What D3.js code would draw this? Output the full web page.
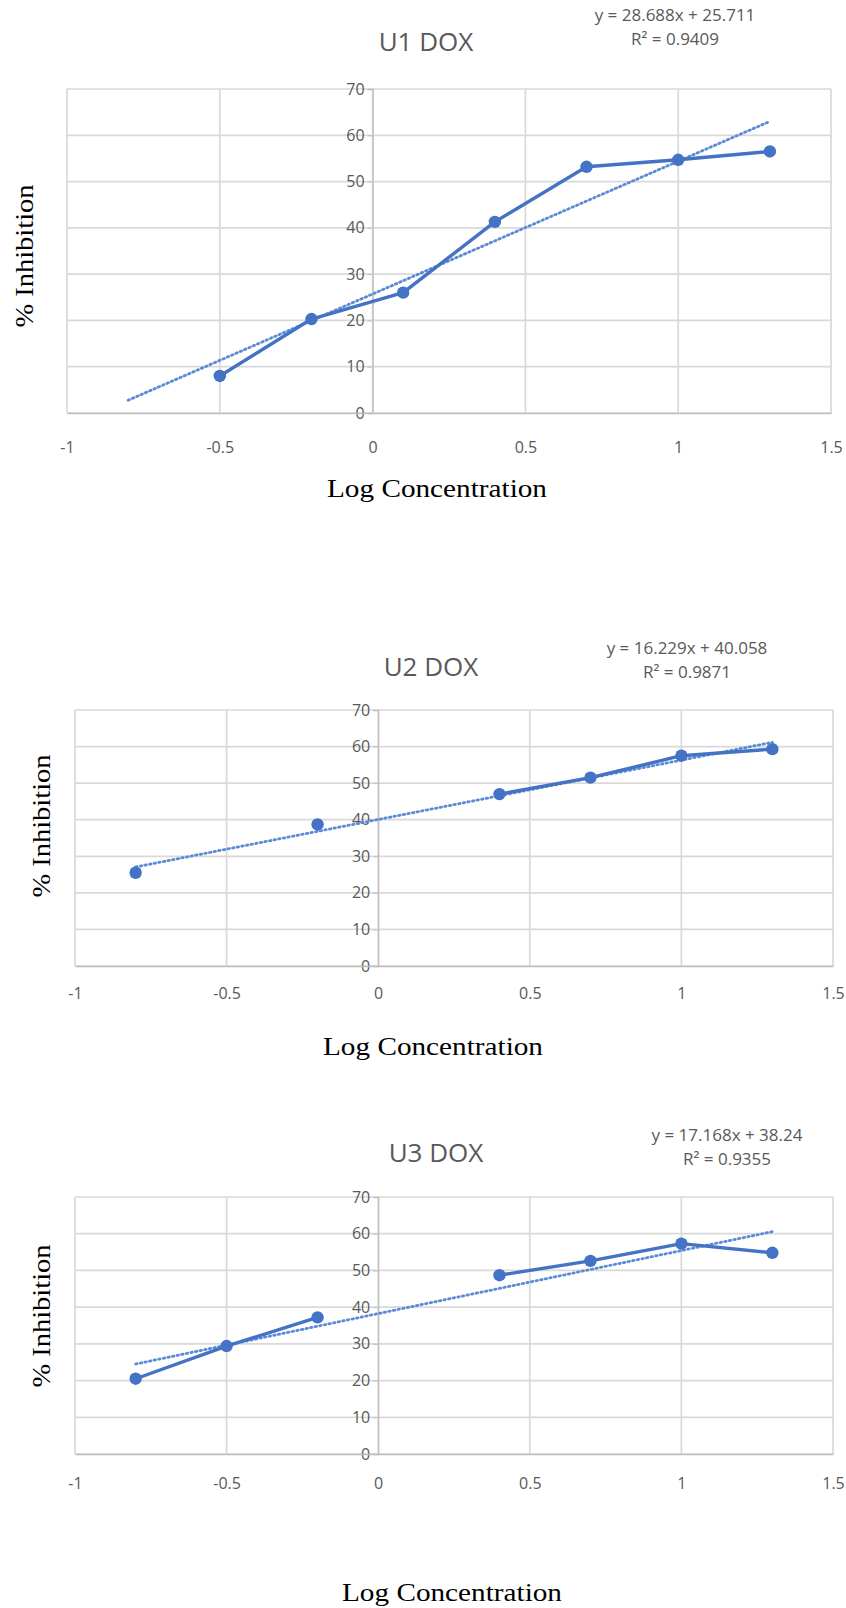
<!DOCTYPE html>
<html>
<head>
<meta charset="utf-8">
<script src="https://cdn.jsdelivr.net/npm/d3@7"></script>
<style>
body{margin:0;background:#fff;}
svg{display:block;}
</style>
</head>
<body>
<script>
// data
const logConc=[-0.8,-0.5,-0.2,0.1,0.4,0.7,1.0,1.3];
const u1Inhib=[null,8,20.3,26,41.3,53.2,54.7,56.5];
const u2Inhib=[25.5,null,38.7,null,47,51.5,57.5,59.3];
const u3Inhib=[20.5,29.4,37.2,null,48.7,52.6,57.3,54.8];
const chartNames=["U1 DOX","U2 DOX","U3 DOX"];
const slopes=[28.688,16.229,17.168];
const intercepts=[25.711,40.058,38.24];
const eqTexts=["y = 28.688x + 25.711","y = 16.229x + 40.058","y = 17.168x + 38.24"];
const r2Texts=["R² = 0.9409","R² = 0.9871","R² = 0.9355"];
const xTicks=[-1,-0.5,0,0.5,1,1.5];
const yTicks=[0,10,20,30,40,50,60,70];
const series=[u1Inhib,u2Inhib,u3Inhib];

// where each panel sits on the page
const layout=[
  {x0:67,x1:831,yTop:89,yBot:413,titleX:426,titleY:51,eqX:675,eqY:21,xlabY:453,xtitleX:437,xtitleY:497,ytitleX:33,ytitleY:256},
  {x0:75,x1:833,yTop:710,yBot:966,titleX:431,titleY:676,eqX:687,eqY:654,xlabY:999,xtitleX:433,xtitleY:1055,ytitleX:50,ytitleY:826},
  {x0:75,x1:833,yTop:1197,yBot:1454,titleX:436,titleY:1162,eqX:727,eqY:1141,xlabY:1489,xtitleX:452,xtitleY:1601,ytitleX:50,ytitleY:1316}
];

const W=846,H=1608;
const blue="#4472c4",grid="#d9d9d9",txt="#595959";
const svg=d3.select("body").append("svg").attr("width",W).attr("height",H);
const fmt=d=>String(d);
const tickFont="16px 'Open Sans', sans-serif";

layout.forEach((L,k)=>{
  const x=d3.scaleLinear().domain([-1,1.5]).range([L.x0,L.x1]);
  const y=d3.scaleLinear().domain([0,70]).range([L.yBot,L.yTop]);
  const g=svg.append("g");

  // gridlines
  g.selectAll(".hg").data(yTicks).join("line")
    .attr("x1",L.x0).attr("x2",L.x1)
    .attr("y1",d=>y(d)).attr("y2",d=>y(d))
    .attr("stroke",grid).attr("stroke-width",1.7);
  g.selectAll(".vg").data(xTicks).join("line")
    .attr("x1",d=>x(d)).attr("x2",d=>x(d))
    .attr("y1",L.yTop).attr("y2",L.yBot)
    .attr("stroke",grid).attr("stroke-width",1.7);

  // y axis at x = 0
  const ya=g.append("g").attr("transform",`translate(${x(0)},0)`)
    .call(d3.axisLeft(y).tickValues(yTicks).tickFormat(fmt).tickSize(5).tickPadding(3));
  ya.select(".domain").attr("stroke","#bfbfbf").attr("stroke-width",1.3);
  ya.selectAll(".tick line").attr("stroke","#bfbfbf");
  ya.selectAll("text").attr("fill",txt).style("font",tickFont);

  // x axis labels
  const xa=g.append("g").attr("transform",`translate(0,${y(0)})`)
    .call(d3.axisBottom(x).tickValues(xTicks).tickFormat(fmt).tickSize(0).tickPadding(0));
  xa.select(".domain").attr("stroke","#bfbfbf").attr("stroke-width",1.7);
  xa.selectAll("text").attr("fill",txt).attr("y",L.xlabY-L.yBot).attr("dy",0)
    .style("font",tickFont);

  // trendline
  const a=slopes[k],b=intercepts[k];
  const tx=[logConc[0],logConc[logConc.length-1]];
  g.append("line")
    .attr("x1",x(tx[0])).attr("y1",y(a*tx[0]+b))
    .attr("x2",x(tx[1])).attr("y2",y(a*tx[1]+b))
    .attr("stroke","#5b8bd6").attr("stroke-width",2.8)
    .attr("stroke-dasharray","1.5 3.2").attr("stroke-linecap","round");

  // data line with gaps
  const pts=logConc.map((c,i)=>({c,v:series[k][i]}));
  const line=d3.line().defined(d=>d.v!=null).x(d=>x(d.c)).y(d=>y(d.v));
  g.append("path").datum(pts).attr("d",line)
    .attr("fill","none").attr("stroke",blue).attr("stroke-width",3.4)
    .attr("stroke-linejoin","round");
  g.selectAll("circle").data(pts.filter(d=>d.v!=null)).join("circle")
    .attr("cx",d=>x(d.c)).attr("cy",d=>y(d.v)).attr("r",6.2)
    .attr("fill",blue);

  // titles
  svg.append("text").attr("x",L.titleX).attr("y",L.titleY)
    .attr("text-anchor","middle").attr("fill",txt)
    .style("font","26px 'Open Sans', sans-serif").text(chartNames[k]);
  svg.append("text").attr("x",L.eqX).attr("y",L.eqY)
    .attr("text-anchor","middle").attr("fill",txt)
    .style("font","17px 'Open Sans', sans-serif").text(eqTexts[k]);
  svg.append("text").attr("x",L.eqX).attr("y",L.eqY+24)
    .attr("text-anchor","middle").attr("fill",txt)
    .style("font","17px 'Open Sans', sans-serif").text(r2Texts[k]);

  svg.append("text").attr("x",L.xtitleX).attr("y",L.xtitleY)
    .attr("text-anchor","middle").attr("fill","#000")
    .attr("textLength",220).attr("lengthAdjust","spacingAndGlyphs")
    .style("font","26px 'Liberation Serif', serif").text("Log Concentration");
  svg.append("text")
    .attr("transform",`translate(${L.ytitleX},${L.ytitleY}) rotate(-90)`)
    .attr("text-anchor","middle").attr("fill","#000")
    .attr("textLength",143).attr("lengthAdjust","spacingAndGlyphs")
    .style("font","26px 'Liberation Serif', serif").text("% Inhibition");
});
</script>
</body>
</html>
